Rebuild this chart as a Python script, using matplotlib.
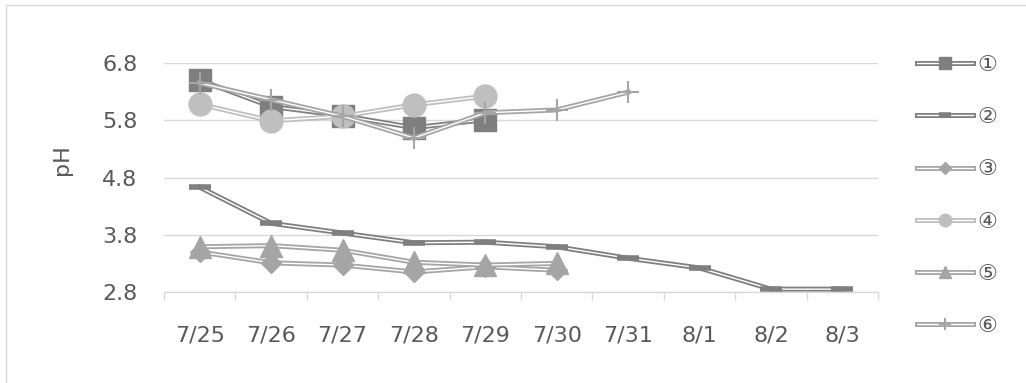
import matplotlib
matplotlib.use("Agg")
import matplotlib.pyplot as plt
import matplotlib.patheffects as pe
from matplotlib.legend_handler import HandlerTuple
from matplotlib.patches import Rectangle

plt.rcParams['font.family'] = ['DejaVu Sans', 'Noto Sans CJK JP']

dates = ['7/25', '7/26', '7/27', '7/28', '7/29', '7/30', '7/31', '8/1', '8/2', '8/3']
names = ['①', '②', '③', '④', '⑤', '⑥']

ph1 = [6.50, 6.04, 5.88, 5.67, 5.81]
ph2 = [4.63, 4.00, 3.83, 3.66, 3.67, 3.59, 3.39, 3.22, 2.85, 2.85]
ph3 = [3.50, 3.31, 3.27, 3.15, 3.24, 3.18]
ph4 = [6.08, 5.79, 5.87, 6.07, 6.22]
ph5 = [3.59, 3.61, 3.53, 3.32, 3.27, 3.30]
ph6 = [6.45, 6.16, 5.87, 5.49, 5.93, 5.98, 6.29]

series = [ph1, ph2, ph3, ph4, ph5, ph6]
colors = ['#7f7f7f', '#7f7f7f', '#a5a5a5', '#bfbfbf', '#a5a5a5', '#a5a5a5']
markers = [
    dict(marker='s', ms=16),
    dict(marker='_', ms=16, mew=4),
    dict(marker='D', ms=10.5),
    dict(marker='o', ms=16.5),
    dict(marker='^', ms=16),
    dict(marker='+', ms=16, mew=1.5),
]

fig = plt.figure(figsize=(10.26, 3.83), dpi=100)
ax = fig.add_axes([164 / 1026, 1 - 292 / 383, 714 / 1026, 229 / 383])

handles = []
for vals, c, mk in zip(series, colors, markers):
    x = list(range(len(vals)))
    # double line: coloured stroke with a thin white core
    ln, = ax.plot(x, vals, color='white', lw=1.0, solid_joinstyle='miter',
                  path_effects=[pe.Stroke(linewidth=3.6, foreground=c), pe.Normal()])
    mk_ln, = ax.plot(x, vals, ls='none', color=c, mec=c, **mk)
    handles.append((ln, mk_ln))

ax.set_xlim(-0.5, len(dates) - 0.5)
ax.set_ylim(2.8, 6.8)
ax.set_xticks(range(len(dates)))
ax.set_xticklabels(dates)
ax.set_xticks([i - 0.5 for i in range(len(dates) + 1)], minor=True)
ax.set_yticks([2.8, 3.8, 4.8, 5.8, 6.8])
ax.set_yticklabels(['2.8', '3.8', '4.8', '5.8', '6.8'])

ax.tick_params(axis='x', which='major', length=0, pad=24, labelsize=16, labelcolor='#595959')
ax.tick_params(axis='x', which='minor', length=6, width=1, color='#d9d9d9')
ax.tick_params(axis='y', length=0, pad=19, labelsize=16, labelcolor='#595959')

ax.grid(axis='y', color='#d9d9d9', lw=1)
ax.set_axisbelow(True)
for s in ['top', 'right', 'left']:
    ax.spines[s].set_visible(False)
ax.spines['bottom'].set_color('#d9d9d9')
ax.spines['bottom'].set_linewidth(1)

fig.text(62 / 1026, 1 - 160 / 383, 'pH', rotation=90, ha='center', va='center',
         fontsize=16, color='#595959')

ax.legend(handles, names, handler_map={tuple: HandlerTuple(ndivide=1)},
          loc='upper left', bbox_to_anchor=(917 / 1026, 1 - 55 / 383),
          bbox_transform=fig.transFigure, frameon=False, numpoints=1,
          markerscale=0.55, fontsize=16, labelcolor='#595959', handlelength=2.5,
          handletextpad=0.2, labelspacing=1.45, borderpad=0, borderaxespad=0)

fig.patches.append(Rectangle((6 / 1026, -0.1), 1.2, 1 - 5 / 383 + 0.1,
                             transform=fig.transFigure, fill=False,
                             edgecolor='#d9d9d9', lw=1))

fig.savefig('out.png', dpi=100)
